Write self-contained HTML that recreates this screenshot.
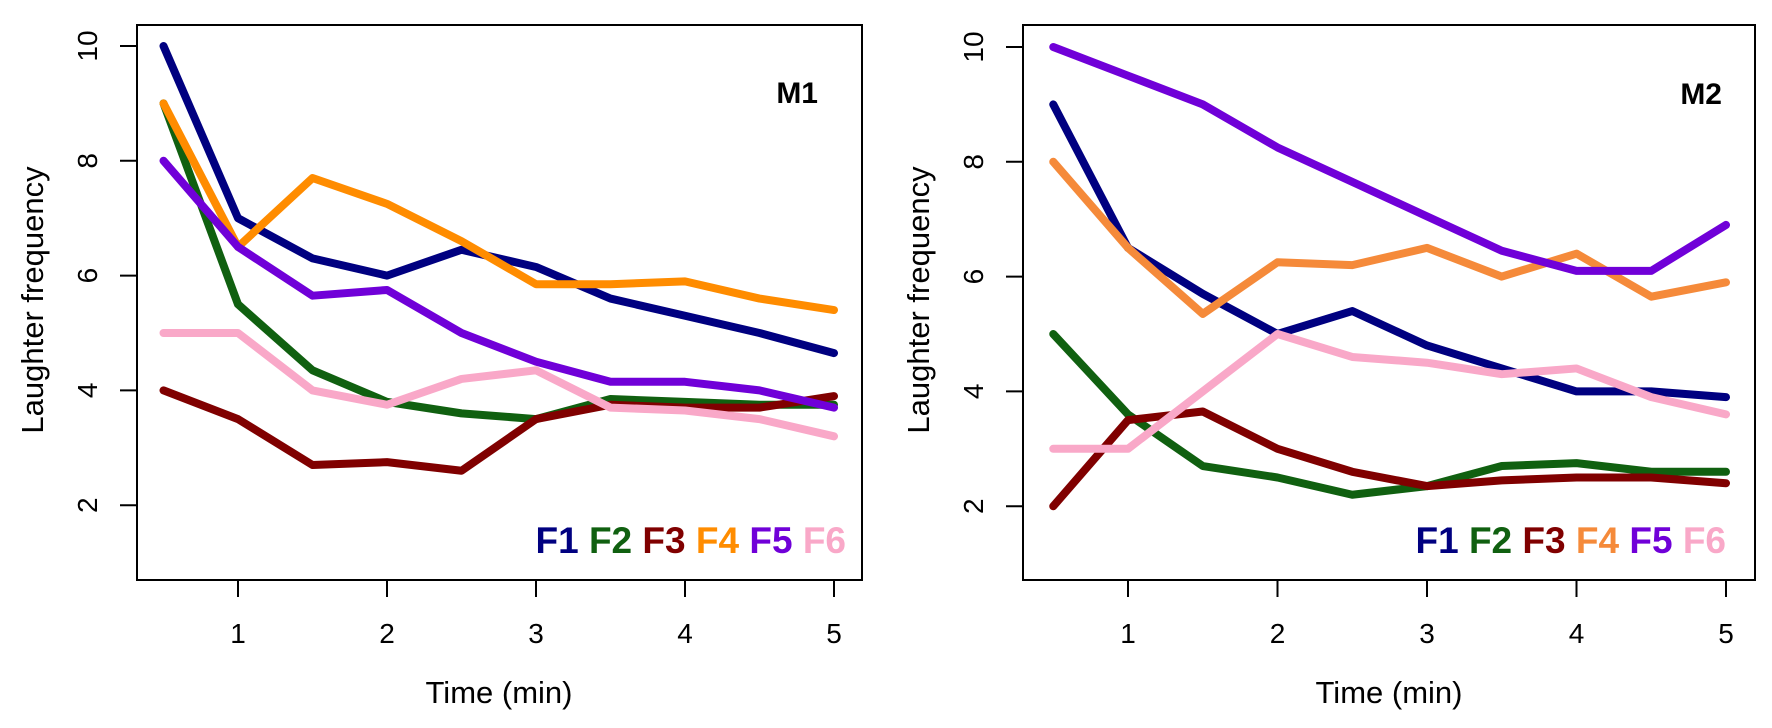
<!DOCTYPE html>
<html><head><meta charset="utf-8"><style>
html,body{margin:0;padding:0;background:#fff;}
svg{display:block;font-family:"Liberation Sans",Arial,sans-serif;}
</style></head><body>
<svg width="1772" height="728" viewBox="0 0 1772 728" xmlns="http://www.w3.org/2000/svg">
<rect width="1772" height="728" fill="#fff"/>
<!-- LEFT PANEL -->
<rect x="137" y="25" width="725" height="555" fill="none" stroke="#000" stroke-width="2"/>
<g stroke="#000" stroke-width="2">
<line x1="238" y1="580" x2="238" y2="597"/><line x1="387" y1="580" x2="387" y2="597"/><line x1="536" y1="580" x2="536" y2="597"/><line x1="685" y1="580" x2="685" y2="597"/><line x1="834" y1="580" x2="834" y2="597"/>
<line x1="120" y1="505.2" x2="137" y2="505.2"/><line x1="120" y1="390.4" x2="137" y2="390.4"/><line x1="120" y1="275.6" x2="137" y2="275.6"/><line x1="120" y1="160.8" x2="137" y2="160.8"/><line x1="120" y1="46" x2="137" y2="46"/>
</g>
<g font-size="28" text-anchor="middle" fill="#000">
<text x="238" y="643">1</text><text x="387" y="643">2</text><text x="536" y="643">3</text><text x="685" y="643">4</text><text x="834" y="643">5</text>
<text transform="translate(97,505.2) rotate(-90)">2</text><text transform="translate(97,390.4) rotate(-90)">4</text><text transform="translate(97,275.6) rotate(-90)">6</text><text transform="translate(97,160.8) rotate(-90)">8</text><text transform="translate(97,46) rotate(-90)">10</text>
</g>
<text x="499" y="703" font-size="31" text-anchor="middle">Time (min)</text>
<text transform="translate(43,300) rotate(-90)" font-size="31" text-anchor="middle">Laughter frequency</text>
<text x="818" y="103" font-size="30" font-weight="bold" text-anchor="end">M1</text>
<g transform="matrix(149,0,0,-57.4,89,620)" fill="none" stroke-width="8" stroke-linejoin="round" stroke-linecap="round">
<polyline vector-effect="non-scaling-stroke" stroke="#000080" points="0.5,10 1,7 1.5,6.3 2,6 2.5,6.45 3,6.15 3.5,5.6 4,5.3 4.5,5.0 5,4.65"/>
<polyline vector-effect="non-scaling-stroke" stroke="#106010" points="0.5,9 1,5.5 1.5,4.35 2,3.8 2.5,3.6 3,3.5 3.5,3.85 4,3.8 4.5,3.75 5,3.75"/>
<polyline vector-effect="non-scaling-stroke" stroke="#800000" points="0.5,4 1,3.5 1.5,2.7 2,2.75 2.5,2.6 3,3.5 3.5,3.75 4,3.7 4.5,3.7 5,3.9"/>
<polyline vector-effect="non-scaling-stroke" stroke="#FF8C00" points="0.5,9 1,6.5 1.5,7.7 2,7.25 2.5,6.6 3,5.85 3.5,5.85 4,5.9 4.5,5.6 5,5.4"/>
<polyline vector-effect="non-scaling-stroke" stroke="#7000D8" points="0.5,8 1,6.5 1.5,5.65 2,5.75 2.5,5.0 3,4.5 3.5,4.15 4,4.15 4.5,4.0 5,3.7"/>
<polyline vector-effect="non-scaling-stroke" stroke="#F9A8C8" points="0.5,5 1,5 1.5,4.0 2,3.75 2.5,4.2 3,4.35 3.5,3.7 4,3.65 4.5,3.5 5,3.2"/>
</g>
<text x="846" y="553" font-size="37" font-weight="bold" text-anchor="end" xml:space="preserve"><tspan fill="#000080">F1</tspan> <tspan fill="#106010">F2</tspan> <tspan fill="#800000">F3</tspan> <tspan fill="#FF8C00">F4</tspan> <tspan fill="#7000D8">F5</tspan> <tspan fill="#F9A8C8">F6</tspan></text>

<!-- RIGHT PANEL -->
<rect x="1023" y="25" width="732" height="555" fill="none" stroke="#000" stroke-width="2"/>
<g stroke="#000" stroke-width="2">
<line x1="1128" y1="580" x2="1128" y2="597"/><line x1="1277.5" y1="580" x2="1277.5" y2="597"/><line x1="1427" y1="580" x2="1427" y2="597"/><line x1="1576.5" y1="580" x2="1576.5" y2="597"/><line x1="1726" y1="580" x2="1726" y2="597"/>
<line x1="1006" y1="506.2" x2="1023" y2="506.2"/><line x1="1006" y1="391.4" x2="1023" y2="391.4"/><line x1="1006" y1="276.6" x2="1023" y2="276.6"/><line x1="1006" y1="161.8" x2="1023" y2="161.8"/><line x1="1006" y1="47" x2="1023" y2="47"/>
</g>
<g font-size="28" text-anchor="middle" fill="#000">
<text x="1128" y="643">1</text><text x="1277.5" y="643">2</text><text x="1427" y="643">3</text><text x="1576.5" y="643">4</text><text x="1726" y="643">5</text>
<text transform="translate(983,506.2) rotate(-90)">2</text><text transform="translate(983,391.4) rotate(-90)">4</text><text transform="translate(983,276.6) rotate(-90)">6</text><text transform="translate(983,161.8) rotate(-90)">8</text><text transform="translate(983,47) rotate(-90)">10</text>
</g>
<text x="1389" y="703" font-size="31" text-anchor="middle">Time (min)</text>
<text transform="translate(929,300) rotate(-90)" font-size="31" text-anchor="middle">Laughter frequency</text>
<text x="1722" y="104" font-size="30" font-weight="bold" text-anchor="end">M2</text>
<g transform="matrix(149.5,0,0,-57.4,978.5,621)" fill="none" stroke-width="8" stroke-linejoin="round" stroke-linecap="round">
<polyline vector-effect="non-scaling-stroke" stroke="#000080" points="0.5,9 1,6.5 1.5,5.7 2,5.0 2.5,5.4 3,4.8 3.5,4.4 4,4.0 4.5,4.0 5,3.9"/>
<polyline vector-effect="non-scaling-stroke" stroke="#106010" points="0.5,5 1,3.6 1.5,2.7 2,2.5 2.5,2.2 3,2.35 3.5,2.7 4,2.75 4.5,2.6 5,2.6"/>
<polyline vector-effect="non-scaling-stroke" stroke="#800000" points="0.5,2 1,3.5 1.5,3.65 2,3.0 2.5,2.6 3,2.35 3.5,2.45 4,2.5 4.5,2.5 5,2.4"/>
<polyline vector-effect="non-scaling-stroke" stroke="#F58A3A" points="0.5,8 1,6.5 1.5,5.35 2,6.25 2.5,6.2 3,6.5 3.5,6.0 4,6.4 4.5,5.65 5,5.9"/>
<polyline vector-effect="non-scaling-stroke" stroke="#7000D8" points="0.5,10 1,9.5 1.5,9.0 2,8.25 2.5,7.65 3,7.05 3.5,6.45 4,6.1 4.5,6.1 5,6.9"/>
<polyline vector-effect="non-scaling-stroke" stroke="#F9A8C8" points="0.5,3 1,3 1.5,4.0 2,5.0 2.5,4.6 3,4.5 3.5,4.3 4,4.4 4.5,3.9 5,3.6"/>
</g>
<text x="1726" y="553" font-size="37" font-weight="bold" text-anchor="end" xml:space="preserve"><tspan fill="#000080">F1</tspan> <tspan fill="#106010">F2</tspan> <tspan fill="#800000">F3</tspan> <tspan fill="#F58A3A">F4</tspan> <tspan fill="#7000D8">F5</tspan> <tspan fill="#F9A8C8">F6</tspan></text>
</svg>
</body></html>
